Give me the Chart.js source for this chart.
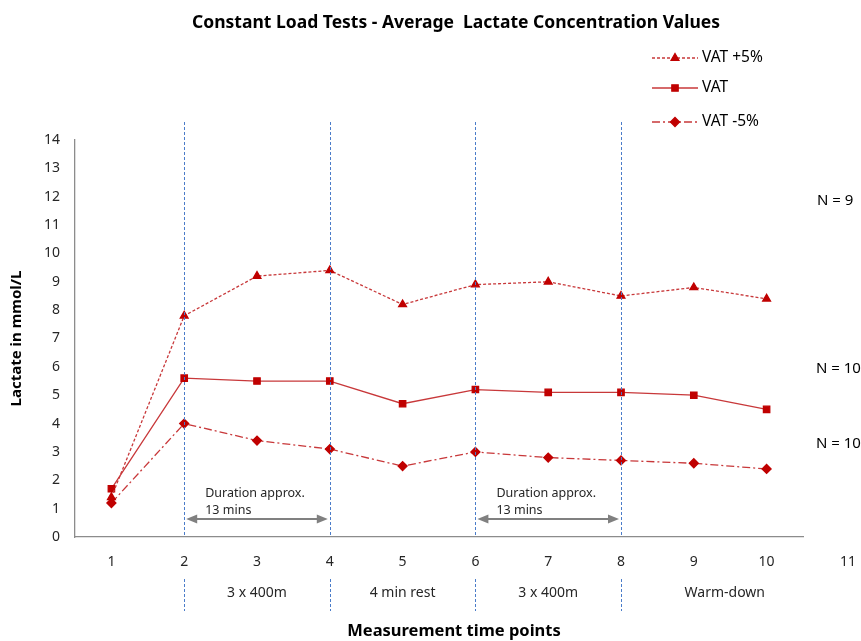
<!DOCTYPE html>
<html>
<head>
<meta charset="utf-8">
<script src="https://cdn.jsdelivr.net/npm/chart.js@4.4.1/dist/chart.umd.min.js"></script>
<style>
  html, body { margin: 0; padding: 0; background: #fff; }
</style>
</head>
<body>
<canvas id="line-chart" width="861" height="641"></canvas>
<script>
// Messzeitpunkte und Mittelwerte (mmol/L)
const timePoints = [1, 2, 3, 4, 5, 6, 7, 8, 9, 10];
const vatPlus5 = [1.4, 7.8, 9.2, 9.4, 8.2, 8.9, 9.0, 8.5, 8.8, 8.4];
const vat = [1.7, 5.6, 5.5, 5.5, 4.7, 5.2, 5.1, 5.1, 5.0, 4.5];
const vatMinus5 = [1.2, 4.0, 3.4, 3.1, 2.5, 3.0, 2.8, 2.7, 2.6, 2.4];
const seriesNames = ['VAT +5%', 'VAT', 'VAT -5%'];
const groupSizes = ['N = 9', 'N = 10', 'N = 10'];
const phaseMarks = [2, 4, 6, 8];
const phaseNames = ['3 x 400m', '4 min rest', '3 x 400m', 'Warm-down'];

const lineRed = '#c8383a';
const markRed = '#c00000';
const font = 'Noto Sans, sans-serif';

function toXY(arr) {
    return arr.map((v, i) => ({ x: timePoints[i], y: v }));
}

// Zusatzgrafik: Titel, Legende, Phasenlinien, Pfeile, Beschriftungen
const extras = {
    id: 'extras',
    afterDraw(chart) {
        const ctx = chart.ctx;
        const xs = chart.scales.x;
        const area = chart.chartArea;
        ctx.save();

        // Titel
        ctx.fillStyle = '#000';
        ctx.font = 'bold 17.5px ' + font;
        ctx.textAlign = 'center';
        ctx.textBaseline = 'middle';
        ctx.fillText('Constant Load Tests - Average  Lactate Concentration Values', 456, 23);

        // x-Achsentitel
        ctx.font = 'bold 16.5px ' + font;
        ctx.fillText('Measurement time points', 454, 631);

        // blaue Phasenlinien
        ctx.strokeStyle = '#4a7cc9';
        ctx.lineWidth = 1;
        ctx.setLineDash([3, 2]);
        phaseMarks.forEach(p => {
            const px = Math.round(xs.getPixelForValue(p)) + 0.5;
            ctx.beginPath();
            ctx.moveTo(px, 122);
            ctx.lineTo(px, area.bottom);
            ctx.moveTo(px, 579);
            ctx.lineTo(px, 611);
            ctx.stroke();
        });
        ctx.setLineDash([]);

        // Pfeile "Duration approx."
        [[2, 4], [6, 8]].forEach(([a, b]) => {
            const x1 = xs.getPixelForValue(a) + 2;
            const x2 = xs.getPixelForValue(b) - 2;
            const y = 519;
            ctx.strokeStyle = '#808080';
            ctx.fillStyle = '#808080';
            ctx.lineWidth = 2;
            ctx.beginPath();
            ctx.moveTo(x1 + 8, y);
            ctx.lineTo(x2 - 8, y);
            ctx.stroke();
            ctx.beginPath();
            ctx.moveTo(x1, y); ctx.lineTo(x1 + 11, y - 4.5); ctx.lineTo(x1 + 11, y + 4.5); ctx.closePath();
            ctx.moveTo(x2, y); ctx.lineTo(x2 - 11, y - 4.5); ctx.lineTo(x2 - 11, y + 4.5); ctx.closePath();
            ctx.fill();
            ctx.fillStyle = '#262626';
            ctx.font = '12.5px ' + font;
            ctx.textAlign = 'left';
            ctx.fillText('Duration approx.', xs.getPixelForValue(a) + 21, 493);
            ctx.fillText('13 mins', xs.getPixelForValue(a) + 21, 510);
        });

        // Phasen unter der Achse
        ctx.fillStyle = '#262626';
        ctx.font = '14px ' + font;
        ctx.textAlign = 'center';
        const centers = [
            (xs.getPixelForValue(2) + xs.getPixelForValue(4)) / 2,
            (xs.getPixelForValue(4) + xs.getPixelForValue(6)) / 2,
            (xs.getPixelForValue(6) + xs.getPixelForValue(8)) / 2,
            xs.getPixelForValue(9) + 31
        ];
        phaseNames.forEach((t, i) => ctx.fillText(t, centers[i], 593));

        // "11" rechts neben der Achse
        ctx.font = '14px ' + font;
        ctx.fillText('11', 848, 562);

        // N-Angaben
        ctx.font = '15px ' + font;
        ctx.textAlign = 'left';
        ctx.fillStyle = '#000';
        ctx.fillText(groupSizes[0], 817, 201);
        ctx.fillText(groupSizes[1], 816, 369);
        ctx.fillText(groupSizes[2], 816, 444);

        // Legende
        const legY = [58, 88, 122];
        chart.data.datasets.forEach((ds, i) => {
            ctx.strokeStyle = ds.borderColor;
            ctx.lineWidth = ds.borderWidth;
            ctx.setLineDash(ds.borderDash || []);
            ctx.beginPath();
            ctx.moveTo(652, legY[i]);
            ctx.lineTo(698, legY[i]);
            ctx.stroke();
            ctx.setLineDash([]);
            ctx.fillStyle = ds.pointBackgroundColor;
            ctx.strokeStyle = ds.pointBorderColor;
            Chart.helpers.drawPoint(ctx, {
                pointStyle: ds.pointStyle, radius: ds.pointRadius, rotation: 0, borderWidth: 1
            }, 675, legY[i]);
            ctx.fillStyle = '#000';
            ctx.font = '15.5px ' + font;
            ctx.textAlign = 'left';
            ctx.fillText(ds.label, 702, legY[i]);
        });

        ctx.restore();
    }
};

const ctx = document.getElementById('line-chart').getContext('2d');
new Chart(ctx, {
    type: 'line',
    data: {
        datasets: [{
            label: seriesNames[0],
            data: toXY(vatPlus5),
            borderColor: lineRed,
            borderWidth: 1.3,
            borderDash: [3, 2],
            pointStyle: 'triangle',
            pointRadius: 4.5,
            pointBackgroundColor: markRed,
            pointBorderColor: markRed
        }, {
            label: seriesNames[1],
            data: toXY(vat),
            borderColor: lineRed,
            borderWidth: 1.3,
            pointStyle: 'rect',
            pointRadius: 4.5,
            pointBackgroundColor: markRed,
            pointBorderColor: markRed
        }, {
            label: seriesNames[2],
            data: toXY(vatMinus5),
            borderColor: lineRed,
            borderWidth: 1.3,
            borderDash: [8, 3, 2, 3],
            pointStyle: 'rectRot',
            pointRadius: 4.5,
            pointBackgroundColor: markRed,
            pointBorderColor: markRed
        }]
    },
    options: {
        responsive: false,
        animation: false,
        layout: { padding: { left: 0, top: 140, right: 58, bottom: 0 } },
        plugins: {
            legend: { display: false },
            tooltip: { enabled: false }
        },
        scales: {
            x: {
                type: 'linear',
                min: 0.5,
                max: 10.5,
                afterFit: s => { s.height = 104; },
                afterBuildTicks: s => { s.ticks = timePoints.map(v => ({ value: v })); },
                grid: { display: false, drawTicks: false },
                border: { color: '#8c8c8c', width: 1.3 },
                ticks: { padding: 17, color: '#262626', font: { family: font, size: 14 } }
            },
            y: {
                min: 0,
                max: 14,
                afterFit: s => { s.width = 75; },
                grid: { display: false, drawTicks: false },
                border: { color: '#8c8c8c', width: 1.3 },
                ticks: { stepSize: 1, padding: 15, color: '#262626', font: { family: font, size: 14 } },
                title: {
                    display: true,
                    text: 'Lactate in mmol/L',
                    color: '#000',
                    padding: { top: 8, bottom: 0 },
                    font: { family: font, size: 15, weight: 'bold' }
                }
            }
        }
    },
    plugins: [extras]
});
</script>
</body>
</html>
